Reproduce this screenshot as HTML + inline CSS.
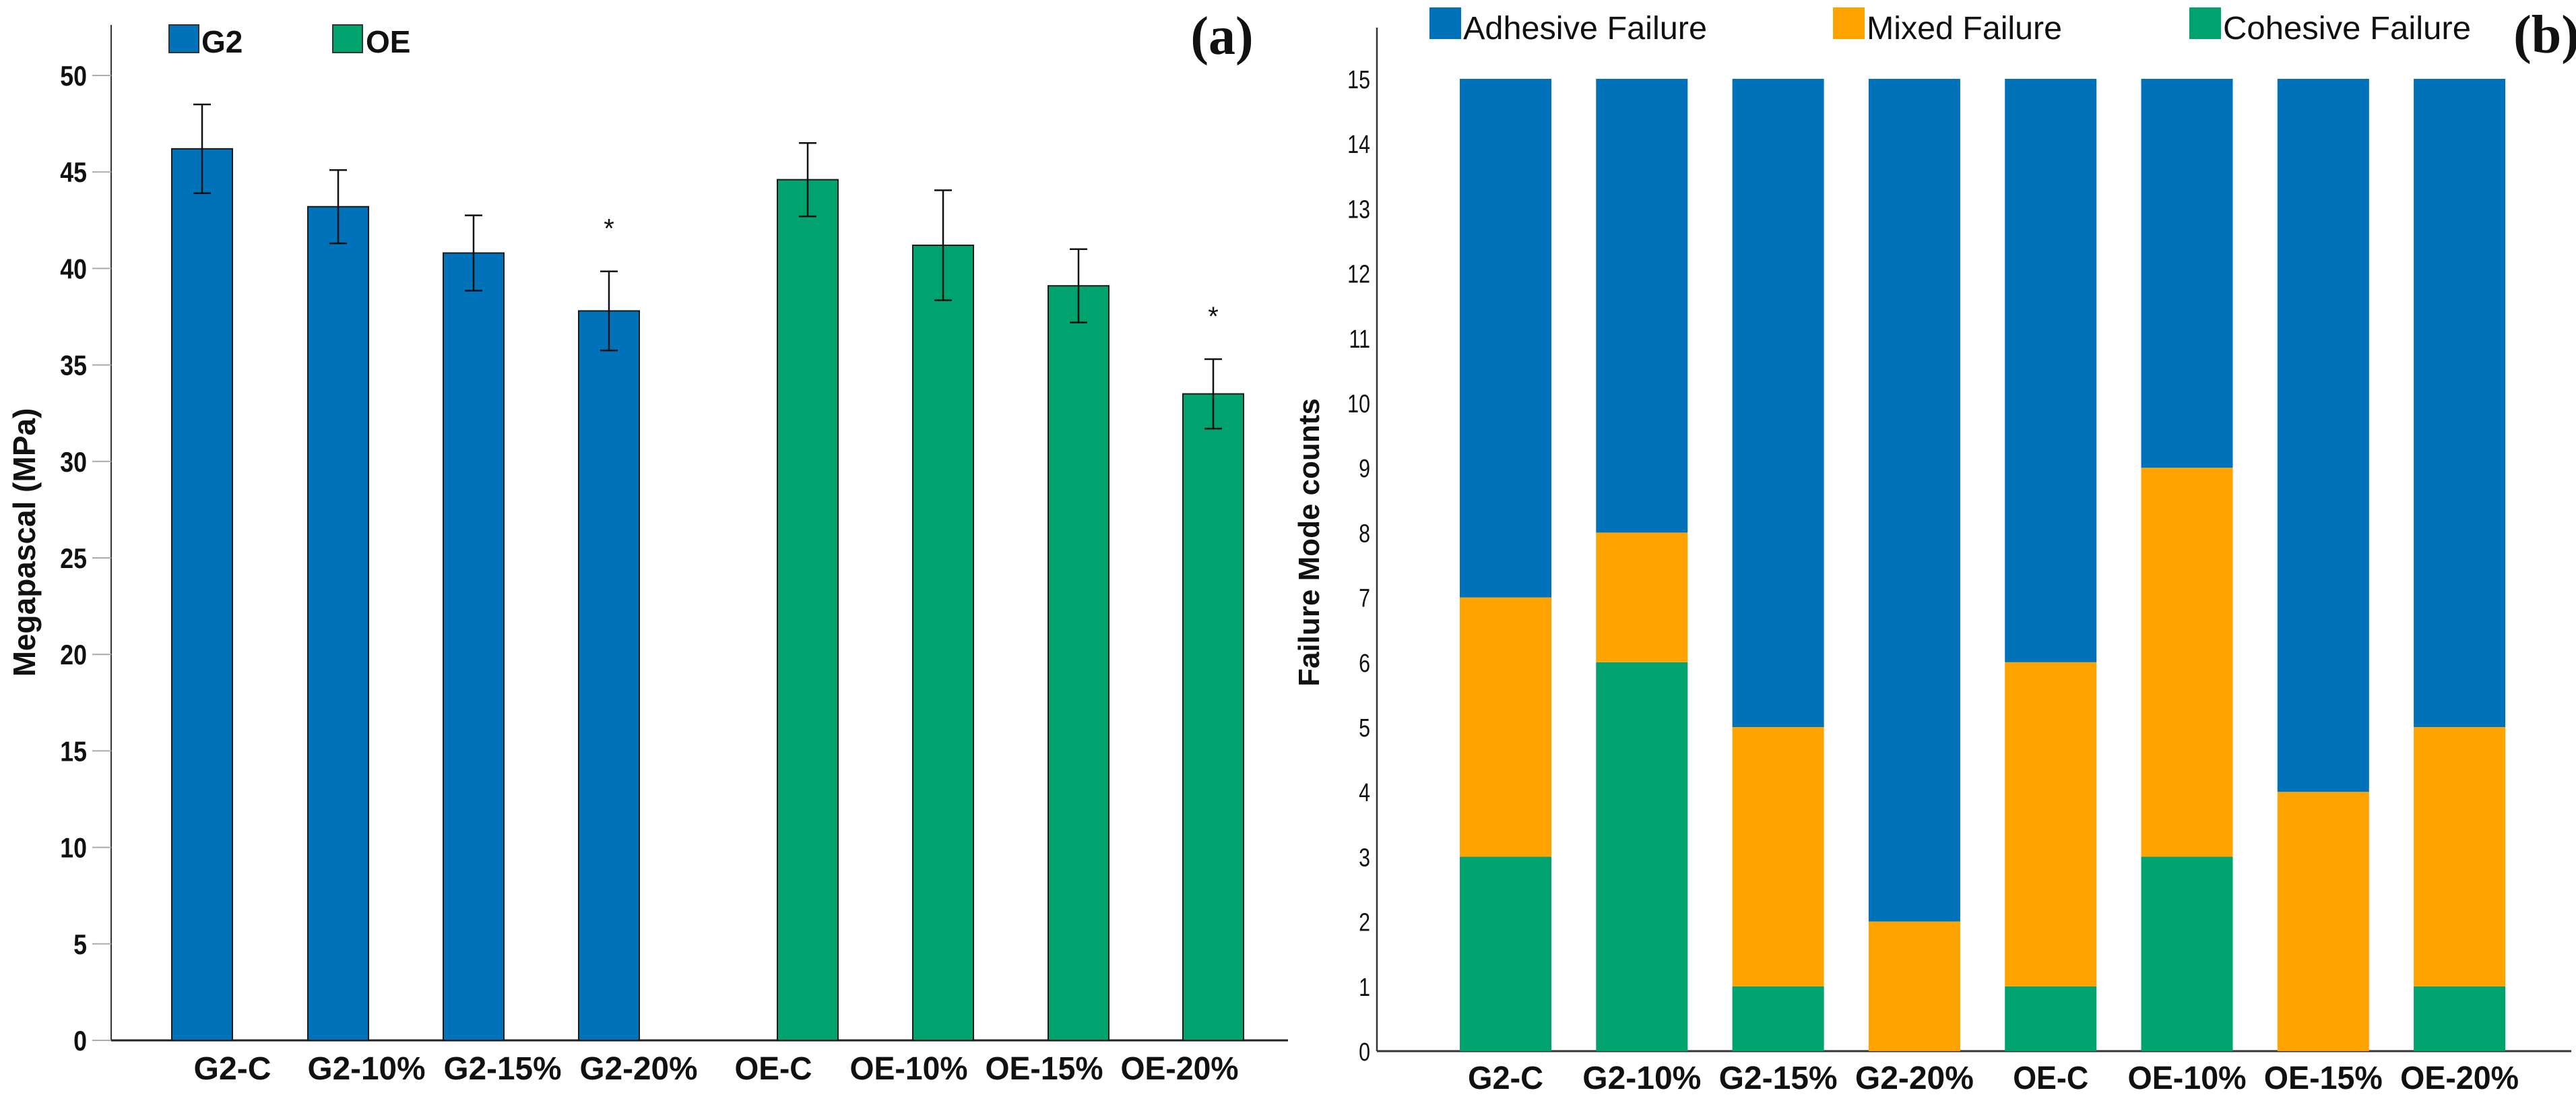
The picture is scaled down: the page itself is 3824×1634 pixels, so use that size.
<!DOCTYPE html>
<html><head><meta charset="utf-8"><style>
html,body{margin:0;padding:0;background:#fff;}
svg{display:block;font-family:"Liberation Sans",Arial,sans-serif;}
</style></head><body>
<svg id="fig" width="3824" height="1634" viewBox="0 0 3824 1634">
<g id="chartA"></g>
<g id="chartB"></g>
</svg>
<script>
// ---- Chart (a) data ----
const catsA = ["G2-C","G2-10%","G2-15%","G2-20%","OE-C","OE-10%","OE-15%","OE-20%"];
const meansA = [46.2,43.2,40.8,37.8,44.6,41.2,39.1,33.5];
const errA = [2.3,1.9,1.95,2.05,1.9,2.85,1.9,1.8];
const groupA = ["G2","G2","G2","G2","OE","OE","OE","OE"];
const sigA = [false,false,false,true,false,false,false,true];
const ticksA = [0,5,10,15,20,25,30,35,40,45,50];
// ---- Chart (b) data ----
const catsB = ["G2-C","G2-10%","G2-15%","G2-20%","OE-C","OE-10%","OE-15%","OE-20%"];
const cohesive = [3,6,1,0,1,3,0,1];
const mixed = [4,2,4,2,5,6,4,4];
const adhesive = [8,7,10,13,9,6,11,10];
const ticksB = [0,1,2,3,4,5,6,7,8,9,10,11,12,13,14,15];

const NS="http://www.w3.org/2000/svg";
const BLUE="#0072BA", GREEN="#00A26D", ORANGE="#FFA300";
function mk(tag,attrs,parent,text){const e=document.createElementNS(NS,tag);for(const k in attrs)e.setAttribute(k,attrs[k]);if(text!==undefined)e.textContent=text;parent.appendChild(e);return e;}

// ===== Chart A =====
const A=document.getElementById('chartA');
const aBase=1544, aTop50=112, aAxisX=165;
const yA=v=>aBase-v*(aBase-aTop50)/50;
const barCentersA=[300,502,703,904,1199,1400,1601,1801];
const xA=i=>barCentersA[i];
const labelXA=[345,544,746,948,1148,1349,1550,1751];
const bwA=90;
let e;
e=mk('line',{x1:aAxisX,y1:37,x2:aAxisX,y2:aBase,stroke:'#333','stroke-width':2},A);


e=mk('line',{x1:aAxisX,y1:aBase,x2:1912,y2:aBase,stroke:'#222','stroke-width':3},A);


ticksA.forEach(t=>{
  const y=yA(t);
  const l=mk('line',{x1:137,y1:y,x2:aAxisX,y2:y,stroke:'#aaa','stroke-width':2},A);
  
  
  const tx=mk('text',{x:129,y:y+15,'text-anchor':'end','font-size':42,'font-weight':'bold',fill:'#111',transform:`translate(129 0) scale(0.85 1) translate(-129 0)`},A,String(t));
  
  
});
catsA.forEach((c,i)=>{
  const cx=xA(i), top=yA(meansA[i]);
  const r=mk('rect',{x:cx-bwA/2,y:top,width:bwA,height:aBase-top,fill:groupA[i]==="G2"?BLUE:GREEN,stroke:'#1a1a1a','stroke-width':2},A);
  
  
  const hi=yA(meansA[i]+errA[i]), lo=yA(meansA[i]-errA[i]);
  const eb=mk('path',{d:`M${cx} ${hi}V${lo}M${cx-13} ${hi}H${cx+13}M${cx-13} ${lo}H${cx+13}`,stroke:'#111','stroke-width':2.5,fill:'none'},A);
  
  
  if(sigA[i]){
    const s=mk('text',{x:cx,y:hi-50,'text-anchor':'middle','font-size':40,fill:'#111'},A,'*');
    
    
  }
  const lx=labelXA[i];
  const lt=mk('text',{x:lx,y:1602,'text-anchor':'middle','font-size':48,'font-weight':'bold',fill:'#111',textLength:c.length>4?175:115,lengthAdjust:'spacingAndGlyphs'},A,c);
  
  
});
e=mk('text',{x:0,y:0,'text-anchor':'middle','font-size':46,'font-weight':'bold',fill:'#111',transform:'translate(52 805) rotate(-90)'},A,'Megapascal (MPa)');


e=mk('rect',{x:251,y:37,width:44,height:41,fill:BLUE,stroke:'#333','stroke-width':2},A);


e=mk('text',{x:299,y:78,'font-size':46,'font-weight':'bold',fill:'#111'},A,'G2');


e=mk('rect',{x:494,y:37,width:44,height:41,fill:GREEN,stroke:'#333','stroke-width':2},A);


e=mk('text',{x:543,y:78,'font-size':46,'font-weight':'bold',fill:'#111'},A,'OE');


e=mk('text',{x:1814,y:80,'text-anchor':'middle','font-size':80,'font-weight':'bold','font-family':'"Liberation Serif",serif',fill:'#111'},A,'(a)');



// ===== Chart B =====
const B=document.getElementById('chartB');
const bBase=1560, bTop15=117, bAxisX=2044;
const yB=v=>bBase-v*(bBase-bTop15)/15;
const xB=i=>2235+i*202.3;
const bwB=136;
e=mk('line',{x1:bAxisX,y1:41,x2:bAxisX,y2:bBase,stroke:'#333','stroke-width':2.5},B);


e=mk('line',{x1:bAxisX,y1:bBase,x2:3817,y2:bBase,stroke:'#333','stroke-width':3},B);


ticksB.forEach(t=>{
  const y=yB(t);
  const tx=mk('text',{x:2034,y:y+14,'text-anchor':'end','font-size':38,fill:'#111',transform:`translate(2034 0) scale(0.8 1) translate(-2034 0)`},B,String(t));
  
  
});
catsB.forEach((c,i)=>{
  const cx=xB(i);
  const segs=[[cohesive[i],GREEN,'cohesive'],[mixed[i],ORANGE,'mixed'],[adhesive[i],BLUE,'adhesive']];
  let acc=0;
  segs.forEach(([v,col,nm])=>{
    if(v>0){
      const r=mk('rect',{x:cx-bwB/2,y:yB(acc+v),width:bwB,height:yB(acc)-yB(acc+v),fill:col},B);
      
      
    }
    acc+=v;
  });
  const lt=mk('text',{x:cx,y:1616,'text-anchor':'middle','font-size':48,'font-weight':'bold',fill:'#111',textLength:c.length>4?176:112,lengthAdjust:'spacingAndGlyphs'},B,c);
  
  
});
e=mk('text',{x:0,y:0,'text-anchor':'middle','font-size':44,'font-weight':'bold',fill:'#111',transform:'translate(1958 805) rotate(-90)'},B,'Failure Mode counts');


const legB=[[2122,2172,BLUE,'Adhesive Failure',362,'legend-adhesive'],[2721,2771,ORANGE,'Mixed Failure',290,'legend-mixed'],[3250,3300,GREEN,'Cohesive Failure',368,'legend-cohesive']];
legB.forEach(([sx,tx,col,txt,w,nm])=>{
  const s=mk('rect',{x:sx,y:11,width:47,height:47,fill:col},B);
  
  
  const t=mk('text',{x:tx,y:58,'font-size':48,fill:'#111',textLength:w,lengthAdjust:'spacingAndGlyphs'},B,txt);
  
  
});
e=mk('text',{x:3780,y:78,'text-anchor':'middle','font-size':80,'font-weight':'bold','font-family':'"Liberation Serif",serif',fill:'#111'},B,'(b)');


</script>
</body></html>
